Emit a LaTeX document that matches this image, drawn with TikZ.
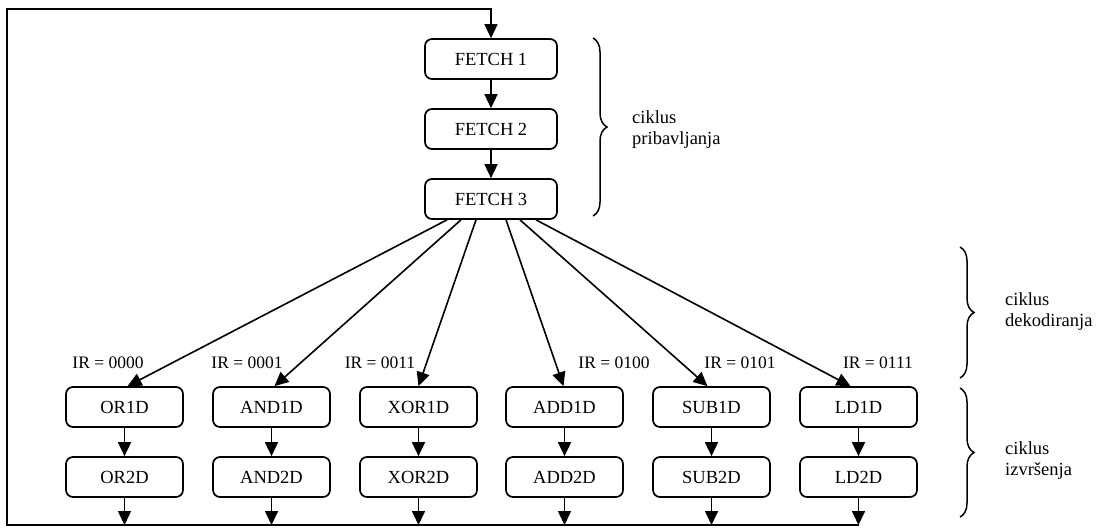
\documentclass[tikz,border=0pt]{standalone}
\usepackage{fontspec}
\setmainfont{Liberation Serif}
\usetikzlibrary{arrows.meta,decorations.pathreplacing,calc}
\begin{document}
\begin{tikzpicture}[x=1pt,y=-1pt,
  txt/.style={font=\fontsize{18.5}{21}\selectfont},
  state/.style={txt,draw,line width=1.7pt,rounded corners=7pt,minimum width=117pt,
    minimum height=40pt,inner sep=0pt},
  fstate/.style={state,minimum width=132pt},
  arr/.style={line width=1.6pt,-{Triangle[length=14pt,width=13pt]}},
  brc/.style={decorate,decoration={brace,amplitude=14pt},line width=1.5pt},
  lbl/.style={font=\fontsize{17.5}{20}\selectfont,inner sep=0pt},
  side/.style={txt,align=left,anchor=west,inner sep=0pt}]
\useasboundingbox (0,0) rectangle (1099,527);

% fetch cycle
\node[fstate] (f1) at (491,59) {FETCH 1};
\node[fstate] (f2) at (491,129) {FETCH 2};
\node[fstate] (f3) at (491,199) {FETCH 3};
\draw[arr] (f1) -- (f2);
\draw[arr] (f2) -- (f3);

% execute cycle
\foreach \n/\a/\b/\x in {or/OR1D/OR2D/124.5, and/AND1D/AND2D/271.5, xor/XOR1D/XOR2D/418.5,
                          add/ADD1D/ADD2D/564.5, sub/SUB1D/SUB2D/711.5, ld/LD1D/LD2D/858.5}{
  \node[state] (\n1) at (\x,407) {\a};
  \node[state] (\n2) at (\x,477) {\b};
  \draw[arr] (\n1) -- (\n2);
}

% decoding branches
\draw[arr] ($(f3.south)+(-44,0)$) -- ($(or1.north)+(3,0)$);
\draw[arr] ($(f3.south)+(-30,0)$) -- ($(and1.north)+(3,0)$);
\draw[arr] ($(f3.south)+(-15,0)$) -- ($(xor1.north)+(0,0)$);
\draw[arr] ($(f3.south)+(15,0)$) -- ($(add1.north)+(-1,0)$);
\draw[arr] ($(f3.south)+(29,0)$) -- ($(sub1.north)+(-4,0)$);
\draw[arr] ($(f3.south)+(45,0)$) -- ($(ld1.north)+(-8,0)$);

\node[lbl] (c0) at (108,363) {IR = 0000};
\node[lbl] (c1) at (247,363) {IR = 0001};
\node[lbl] (c2) at (380,363) {IR = 0011};
\node[lbl] (c3) at (614,363) {IR = 0100};
\node[lbl] (c4) at (740,363) {IR = 0101};
\node[lbl] (c5) at (878,363) {IR = 0111};

% return path to the first fetch step
\coordinate (base) at (0,525);
\coordinate (corner) at (7,9);
\foreach \n in {or,and,xor,add,sub,ld}{
  \draw[arr] (\n2.south) -- (\n2.south |- base);
}
\draw[arr,rounded corners=0pt] (ld2.south |- base) -| (corner) -| (f1.north);

% phase braces
\draw[brc] (593,38) -- (593,216);
\node[side] (p1) at (632,130) {ciklus\\pribavljanja};
\draw[brc] (960,247) -- (960,378);
\node[side] (p2) at (1005,312) {ciklus\\dekodiranja};
\draw[brc] (960,388) -- (960,517);
\node[side] (p3) at (1005,461) {ciklus\\izvršenja};
\end{tikzpicture}
\end{document}
